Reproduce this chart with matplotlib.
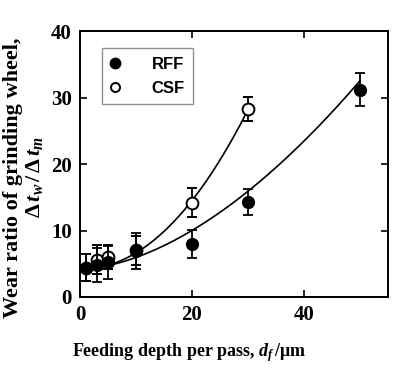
import numpy as np
import matplotlib
matplotlib.use("Agg")
import matplotlib.pyplot as plt
from matplotlib.lines import Line2D

# data
rff_x = [1, 3, 5, 10, 20, 30, 50]
rff_y = [4.4, 4.8, 5.2, 6.9, 8.0, 14.3, 31.2]
rff_err = [2.0, 2.5, 2.5, 2.7, 2.1, 2.0, 2.5]

csf_x = [1, 3, 5, 10, 20, 30]
csf_y = [4.4, 5.6, 6.0, 7.0, 14.2, 28.3]
csf_err = [2.0, 2.2, 1.8, 2.2, 2.2, 1.8]

# fitted curves y = a + b * x**c (parameters)
rff_fit = (4.2, 0.0326, 1.73)
csf_fit = (4.2, 0.0203, 2.08)

plt.rcParams["mathtext.fontset"] = "custom"
plt.rcParams["mathtext.it"] = "Liberation Serif:bold:italic"
plt.rcParams["mathtext.rm"] = "Liberation Serif:bold"

fig = plt.figure(figsize=(4.0, 3.71), dpi=100)
ax = fig.add_axes([0.2, 0.1995, 0.77, 0.7165])

serif = "Liberation Serif"

# fitted lines
xs = np.linspace(1, 50, 200)
a, b, c = rff_fit
ax.plot(xs, a + b * xs ** c, color="black", lw=1.2, zorder=2)
xs2 = np.linspace(1, 30, 200)
a, b, c = csf_fit
ax.plot(xs2, a + b * xs2 ** c, color="black", lw=1.2, zorder=2)

# points with error bars
ax.errorbar(csf_x, csf_y, yerr=csf_err, fmt="o", ms=8.5, mfc="white", mec="black",
            mew=1.4, ecolor="black", elinewidth=1.3, capsize=3.5, capthick=1.3,
            zorder=3, clip_on=False)
ax.errorbar(rff_x, rff_y, yerr=rff_err, fmt="o", ms=8.5, mfc="black", mec="black",
            ecolor="black", elinewidth=1.3, capsize=3.5, capthick=1.3,
            zorder=4, clip_on=False)

ax.set_xlim(0, 55)
ax.set_ylim(0, 40)
ax.set_xticks([0, 20, 40])
ax.set_yticks([0, 10, 20, 30, 40])
ax.tick_params(direction="in", length=5, width=1.2, top=True, right=True,
               labeltop=False, labelright=False, pad=6)
for lab in ax.get_xticklabels() + ax.get_yticklabels():
    lab.set_fontfamily(serif)
    lab.set_fontweight("bold")
    lab.set_fontsize(15)
for sp in ax.spines.values():
    sp.set_linewidth(1.4)

ax.set_xlabel(r"Feeding depth per pass, $d_f\,$/μm", fontfamily=serif,
              fontweight="bold", fontsize=13)
ax.xaxis.set_label_coords(0.354, -0.165)
ax.set_ylabel("Wear ratio of grinding wheel,\n"
              + r"$\mathit{\Delta\,t_w}\,/\,\mathit{\Delta\,t_m}$",
              fontfamily=serif, fontweight="bold", fontsize=16,
              linespacing=1.05)
ax.yaxis.set_label_coords(-0.115, 0.45)

handles = [Line2D([], [], ls="none", marker="o", ms=7.5, mfc="black", mec="black"),
           Line2D([], [], ls="none", marker="o", ms=6.5, mfc="white", mec="black", mew=1.4)]
leg = ax.legend(handles, ["RFF", "CSF"], loc="upper left",
                bbox_to_anchor=(0.07, 0.935), frameon=True, fancybox=False,
                edgecolor="#777777", handletextpad=1.9, handlelength=0.6,
                borderpad=0.5, labelspacing=0.55, borderaxespad=0,
                prop={"family": "Liberation Sans", "weight": "bold", "size": 12})
leg.get_frame().set_linewidth(1.0)

fig.savefig("out.png", dpi=100)
